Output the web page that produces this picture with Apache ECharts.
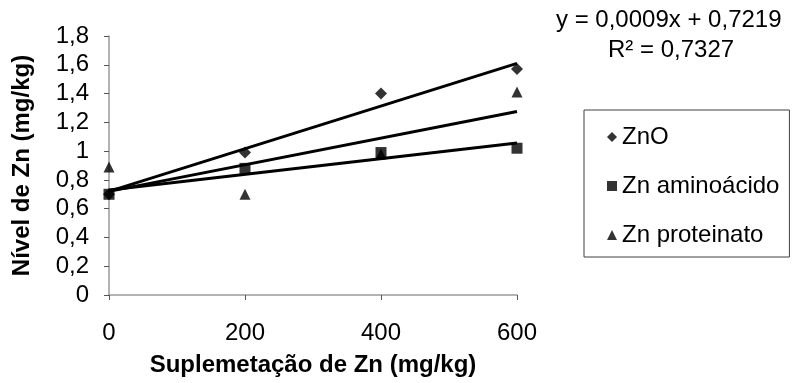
<!DOCTYPE html>
<html>
<head>
<meta charset="utf-8">
<script src="https://cdn.jsdelivr.net/npm/echarts@6/dist/echarts.min.js"></script>
<style>
  html, body { margin: 0; padding: 0; background: #fff; }
  #chart { width: 793px; height: 383px; }
</style>
</head>
<body>
<div id="chart"></div>
<script>
const doses = [0, 200, 400, 600]
const znO = [0.70, 0.99, 1.40, 1.57]
const znAminoacido = [0.70, 0.88, 0.99, 1.02]
const znProteinato = [0.89, 0.70, 0.98, 1.41]

// trend line ends (x = 0 and x = 600)
const trendX = [0, 600]
const trendZnO = [0.72, 1.61]
const trendAminoacido = [0.73, 1.056]
const trendProteinato = [0.72, 1.275]

const equation = ['y = 0,0009x + 0,7219', 'R² = 0,7327']

const font = 'Liberation Sans, Arial, sans-serif'
const fmt = v => String(v).replace('.', ',')

const pairs = (xs, ys) => xs.map((x, i) => [x, ys[i]])

const chart = echarts.init(document.getElementById('chart'))

const trend = (name, ys) => ({
  name: name,
  type: 'line',
  data: pairs(trendX, ys),
  showSymbol: false,
  silent: true,
  z: 2,
  lineStyle: { color: '#000', width: 3 }
})

chart.setOption({
  animation: false,
  backgroundColor: '#fff',
  textStyle: { fontFamily: font, color: '#000' },
  grid: { left: 109, right: 276, top: 36, bottom: 88 },
  legend: {
    orient: 'vertical',
    left: 584,
    top: 110,
    data: ['ZnO', 'Zn aminoácido', 'Zn proteinato'],
    itemWidth: 10,
    itemHeight: 10,
    itemGap: 25,
    padding: [15, 10, 10, 23],
    borderColor: '#404040',
    borderWidth: 1,
    textStyle: { fontFamily: font, fontSize: 24, color: '#000' }
  },
  graphic: [
    {
      type: 'text', left: 556, top: 8,
      style: { text: equation[0], font: '24px ' + font, fill: '#000' }
    },
    {
      type: 'text', top: 38, left: 608,
      style: { text: equation[1], font: '24px ' + font, fill: '#000' }
    }
  ],
  xAxis: {
    type: 'value',
    min: 0,
    max: 600,
    interval: 200,
    name: 'Suplemetação de Zn (mg/kg)',
    nameLocation: 'middle',
    nameGap: 58,
    nameTextStyle: { fontFamily: font, fontSize: 24, fontWeight: 'bold', color: '#000' },
    splitLine: { show: false },
    axisLine: { lineStyle: { color: '#9a9a9a', width: 1.5 } },
    axisTick: { length: 5, lineStyle: { color: '#555' } },
    axisLabel: { margin: 26, fontSize: 24, color: '#000' }
  },
  yAxis: {
    type: 'value',
    min: 0,
    max: 1.8,
    interval: 0.2,
    name: 'Nível de Zn (mg/kg)',
    nameLocation: 'middle',
    nameGap: 75,
    nameTextStyle: { fontFamily: font, fontSize: 24, fontWeight: 'bold', color: '#000' },
    splitLine: { show: false },
    axisLine: { show: true, lineStyle: { color: '#9a9a9a', width: 1.5 } },
    axisTick: { show: true, length: 5, lineStyle: { color: '#555' } },
    axisLabel: {
      margin: 20,
      fontSize: 24,
      color: '#000',
      formatter: v => fmt(Math.round(v * 10) / 10)
    }
  },
  series: [
    trend('tZnO', trendZnO),
    trend('tAmino', trendAminoacido),
    trend('tProt', trendProteinato),
    {
      name: 'ZnO', type: 'scatter', symbol: 'diamond', symbolSize: 12, z: 3,
      itemStyle: { color: '#000' }, data: pairs(doses, znO)
    },
    {
      name: 'Zn proteinato', type: 'scatter', symbol: 'triangle', symbolSize: 11, z: 3,
      itemStyle: { color: '#000' }, data: pairs(doses, znProteinato)
    },
    {
      name: 'Zn aminoácido', type: 'scatter', symbol: 'rect', symbolSize: 11, z: 4,
      itemStyle: { color: '#000' }, data: pairs(doses, znAminoacido)
    }
  ]
})
</script>
</body>
</html>
